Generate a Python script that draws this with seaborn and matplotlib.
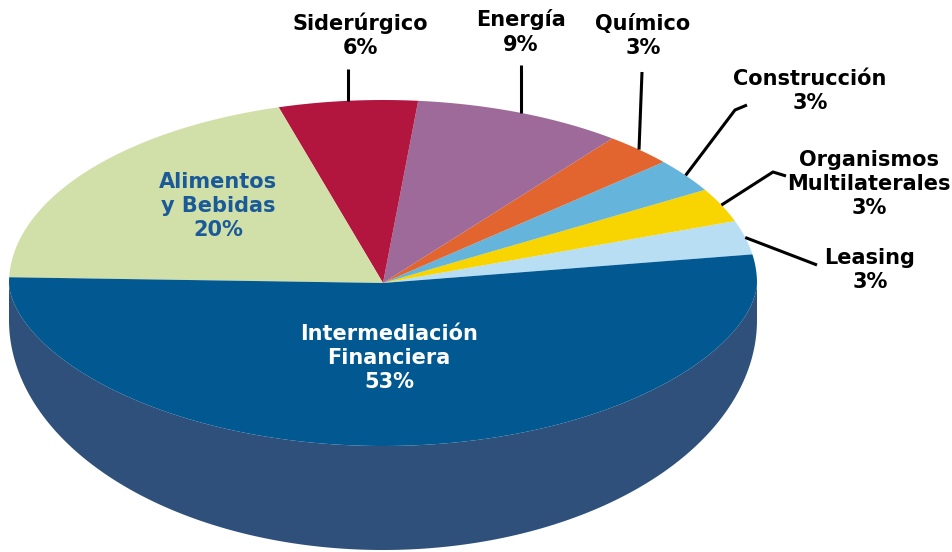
import numpy as np
import matplotlib
matplotlib.use("Agg")
import matplotlib.pyplot as plt
import seaborn as sns

# datos del gráfico (sentido antihorario desde la derecha)
categorias = ['Leasing', 'Organismos\nMultilaterales', 'Construcción', 'Químico',
              'Energía', 'Siderúrgico', 'Alimentos\ny Bebidas', 'Intermediación\nFinanciera']
porcentajes = [3, 3, 3, 3, 9, 6, 20, 53]
colores = ['#B8DEF4', '#F8D400', '#64B4DC', '#E2642E',
           '#9E6A9A', '#B2163E', '#D0E0A8', '#025891']
color_lateral = '#2E507A'

sns.set_theme(style="white")
plt.rcParams['font.family'] = ['DejaVu Sans']

# geometría del pastel 3D (en píxeles), con algo de perspectiva
cx, cy = 383, 283
rx, ry_sup, ry_inf = 374, 183, 163
exp_inf = 1.15
cy_base, ry_base = 320, 230
inicio = 9.0


def punto(theta_deg):
    t = np.radians(theta_deg)
    s = np.sin(t)
    dy = np.where(s >= 0, -ry_sup * s, ry_inf * np.abs(s) ** exp_inf)
    return cx + rx * np.cos(t), cy + dy


def punto_base(theta_deg):
    t = np.radians(theta_deg)
    return cx + rx * np.cos(t), cy_base - ry_base * np.sin(t)


fig = plt.figure(figsize=(9.53, 5.52), dpi=100)
ax = fig.add_axes([0, 0, 1, 1])
ax.set_xlim(0, 953)
ax.set_ylim(552, 0)
ax.axis('off')

# cara lateral (mitad frontal)
t = np.linspace(180, 360, 300)
xs, ys = punto(t)
xb, yb = punto_base(t[::-1])
ax.fill(np.concatenate([xs, xb]), np.concatenate([ys, yb]), color=color_lateral, lw=0)

# cara superior
bordes = inicio + np.concatenate([[0], np.cumsum(porcentajes)]) * 3.6
for i, col in enumerate(colores):
    t = np.linspace(bordes[i], bordes[i + 1], 300)
    x, y = punto(t)
    ax.fill(np.concatenate([[cx], x]), np.concatenate([[cy], y]), color=col, lw=0)

# etiquetas: (x, y del centro del texto, color, puntos de la línea guía)
etiquetas = {
    'Leasing': (870, 270, 'black', [(817, 265)]),
    'Organismos\nMultilaterales': (869, 184, 'black', [(773, 172), (786, 176)]),
    'Construcción': (810, 91, 'black', [(735, 110), (747, 105)]),
    'Químico': (643, 36, 'black', [(642, 72)]),
    'Energía': (521, 32, 'black', [(None, 65)]),
    'Siderúrgico': (360, 35, 'black', [(None, 69)]),
    'Alimentos\ny Bebidas': (218, 206, '#1A5A98', None),
    'Intermediación\nFinanciera': (389, 358, 'white', None),
}

for i, (cat, val) in enumerate(zip(categorias, porcentajes)):
    tx, ty, tc, guia = etiquetas[cat]
    ax.text(tx, ty, f"{cat}\n{val}%", ha='center', va='center', color=tc,
            fontsize=15, fontweight='bold', linespacing=1.28)
    if guia:
        ax0, ay0 = punto((bordes[i] + bordes[i + 1]) / 2)
        px, py = [float(ax0)], [float(ay0)]
        for gx, gy in guia:
            px.append(float(ax0) if gx is None else gx)
            py.append(gy)
        ax.plot(px, py, color='black', lw=2.2, solid_capstyle='butt')

fig.savefig('out.png', dpi=100)
